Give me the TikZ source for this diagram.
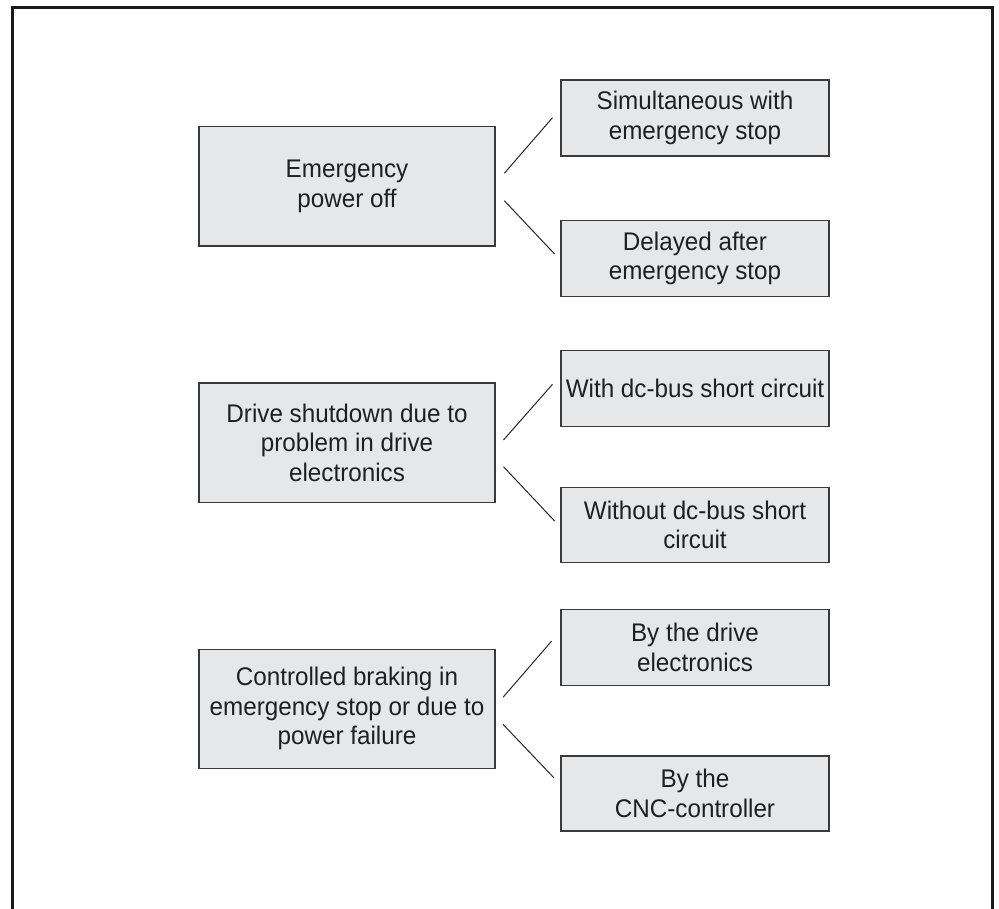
\documentclass[tikz,border=0pt]{standalone}
\usepackage{fontspec}
\setmainfont{Liberation Sans}[FakeStretch=0.95]
\usetikzlibrary{calc}
\definecolor{boxfill}{HTML}{E6E7E8}
\definecolor{boxline}{HTML}{3A3A3A}
\begin{document}
\begin{tikzpicture}[x=1pt,y=-1pt,
  card/.style={draw=boxline, line width=1.5pt, fill=boxfill, rectangle, inner sep=0pt,
    align=center, font=\fontsize{25.5}{29.5}\selectfont, text=black!88},
  leftcard/.style={card, minimum width=296pt, minimum height=119.5pt},
  rightcard/.style={card, minimum width=268pt, minimum height=76pt},
  link/.style={draw=black!85, line width=1pt}]
\useasboundingbox (0,0) rectangle (999,909);
\draw[line width=3pt, black!90] (12,909) -- (12,8) -- (992,8) -- (992,909);

\node[leftcard] (A) at (347,186.4) {Emergency\\power off};
\node[rightcard] (A1) at (695,118) {Simultaneous with\\emergency stop};
\node[rightcard] (A2) at (695,258.4) {Delayed after\\emergency stop};

\node[leftcard] (B) at (347,442.5) {Drive shutdown due to\\problem in drive\\electronics};
\node[rightcard] (B1) at (695,388.7) {With dc-bus short circuit};
\node[rightcard, minimum height=75pt] (B2) at (695,524.8) {Without dc-bus short\\circuit};

\node[leftcard, minimum height=119pt] (C) at (347,708.8) {Controlled braking in\\emergency stop or due to\\power failure};
\node[rightcard] (C1) at (695,647.3) {By the drive\\electronics};
\node[rightcard, minimum height=75pt] (C2) at (695,793.3) {By the\\CNC-controller};

\coordinate (a1s) at (504.3,173.3); \coordinate (a1e) at (552.5,117.7);
\coordinate (a2s) at (504.3,200.7); \coordinate (a2e) at (554.6,254);
\coordinate (b1s) at (503.5,440);   \coordinate (b1e) at (552.5,384.3);
\coordinate (b2s) at (503.5,466.7); \coordinate (b2e) at (554.6,521);
\coordinate (c1s) at (503,697.3);   \coordinate (c1e) at (551.7,641);
\coordinate (c2s) at (503,724.3);   \coordinate (c2e) at (553.8,777.7);

\draw[link] (a1s) -- (a1e);
\draw[link] (a2s) -- (a2e);
\draw[link] (b1s) -- (b1e);
\draw[link] (b2s) -- (b2e);
\draw[link] (c1s) -- (c1e);
\draw[link] (c2s) -- (c2e);
\end{tikzpicture}
\end{document}
